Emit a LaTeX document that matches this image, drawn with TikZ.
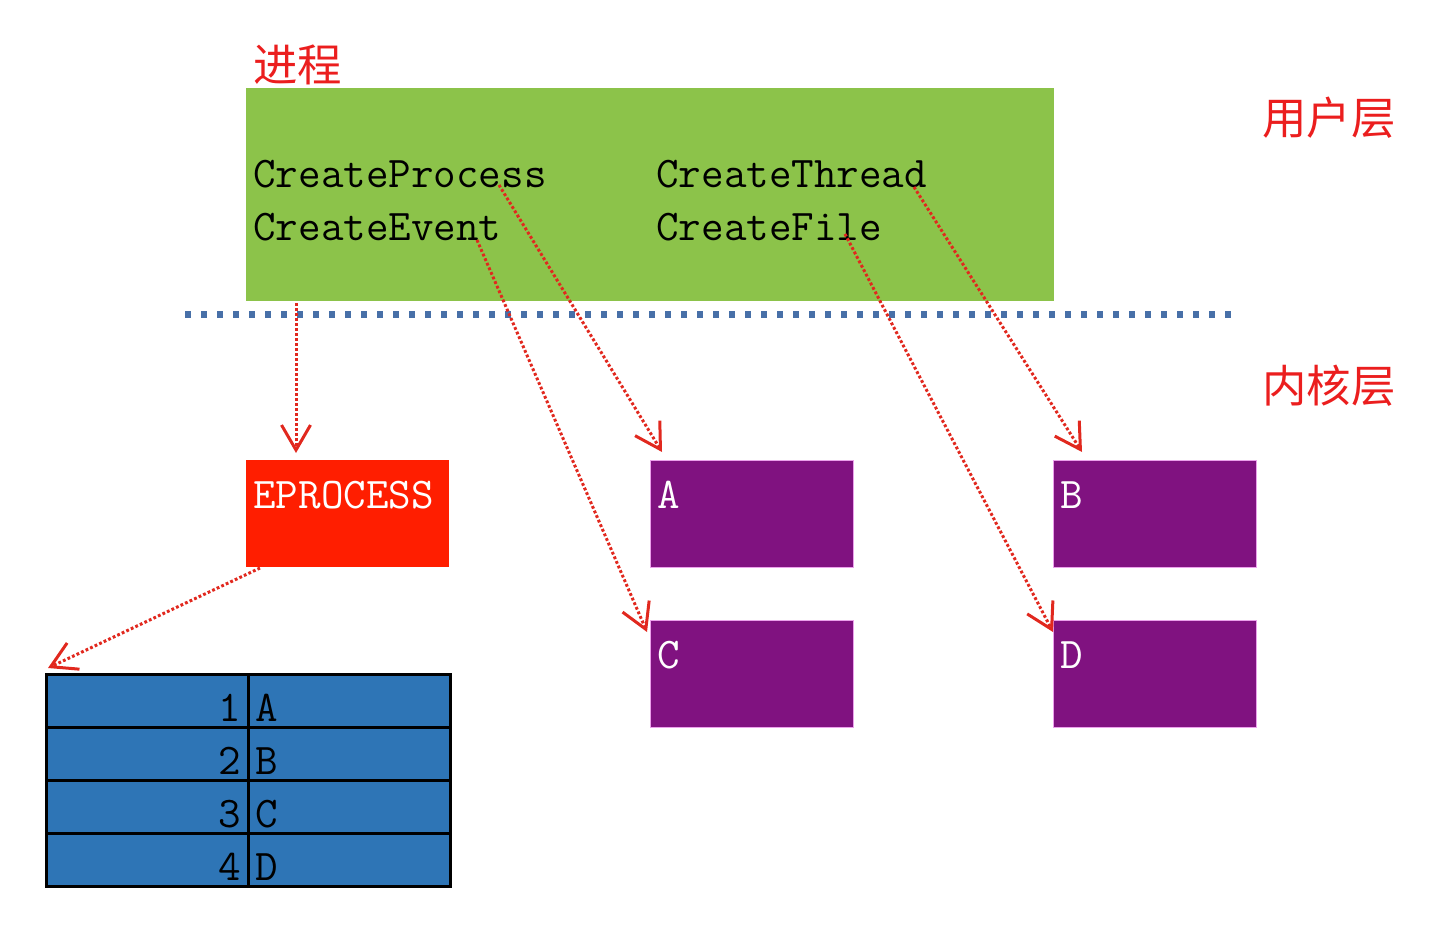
\documentclass[tikz,border=0pt]{standalone}
\usepackage{fontspec}
\newfontfamily\cjk{Noto Sans CJK SC}
\usetikzlibrary{arrows.meta}
\definecolor{boxgreen}{RGB}{140,195,74}
\definecolor{boxpurple}{RGB}{128,18,128}
\definecolor{boxpink}{RGB}{235,160,235}
\definecolor{boxred}{RGB}{255,30,0}
\definecolor{tblue}{RGB}{46,117,182}
\definecolor{sepblue}{RGB}{72,112,168}
\definecolor{arrowred}{RGB}{225,40,30}
\definecolor{labred}{RGB}{235,30,30}
\newcommand\codefont{\ttfamily\fontsize{21.9pt}{24pt}\selectfont}
\tikzset{
  code/.style={font=\codefont, inner sep=0pt, anchor=base west},
  layerlab/.style={font=\cjk\fontsize{22.2pt}{25pt}\selectfont, text=labred, inner sep=0pt, anchor=west},
  kbox/.style={anchor=north west, minimum width=101.5pt, inner xsep=3.5pt, inner ysep=0pt,
    text width=94.5pt, align=left, text height=24pt, text depth=29.5pt,
    font=\codefont, text=white},
  purplebox/.style={kbox, fill=boxpurple, draw=boxpink, line width=0.5pt},
  cell/.style={draw=black, line width=1.4pt, fill=tblue, anchor=north west, inner ysep=0pt,
    text height=23.5pt, text depth=3pt, font=\codefont},
  numcell/.style={cell, inner xsep=3.5pt, text width=94pt, align=right},
  letcell/.style={cell, inner xsep=3.5pt, text width=94pt, align=left},
  link/.style={draw=arrowred, line width=1.5pt, dash pattern=on 1.4pt off 1.1pt,
    -{Straight Barb[length=12.5pt,width=14.5pt,line width=1.5pt]}},
  sepline/.style={draw=sepblue, line width=3.5pt, dash pattern=on 3pt off 5pt},
}
\begin{document}
\begin{tikzpicture}[x=0.5pt,y=-0.5pt]
\useasboundingbox (0,0) rectangle (1436,936);
% user-layer box
\node[fill=boxgreen, anchor=north west, minimum width=404pt, minimum height=106.5pt, inner sep=0pt] (user) at (246,88) {};
\node[layerlab] (proc) at (253,65) {进程};
\node[layerlab] (ulayer) at (1262,118) {用户层};
\node[layerlab] (klayer) at (1262,386) {内核层};
\node[code] (cp) at (253,188) {CreateProcess};
\node[code] (ce) at (253,241) {CreateEvent};
\node[code] (ct) at (656,188) {CreateThread};
\node[code] (cf) at (656,241) {CreateFile};
% separator
\coordinate (sepL) at (185,315);
\coordinate (sepR) at (1236,315);
\draw[sepline] (sepL) -- (sepR);
% kernel objects
\node[kbox, fill=boxred] (ep) at (246,460) {EPROCESS};
\node[purplebox] (A) at (650,460) {A};
\node[purplebox] (B) at (1053,460) {B};
\node[purplebox] (C) at (650,620) {C};
\node[purplebox] (D) at (1053,620) {D};
% handle table
\node[numcell] (n1) at (45,673) {1};
\node[letcell] (l1) at (247,673) {A};
\node[numcell] (n2) at (45,726) {2};
\node[letcell] (l2) at (247,726) {B};
\node[numcell] (n3) at (45,779) {3};
\node[letcell] (l3) at (247,779) {C};
\node[numcell] (n4) at (45,832) {4};
\node[letcell] (l4) at (247,832) {D};
% arrow end points
\coordinate (s1) at (296,303);
\coordinate (s2) at (499,185);
\coordinate (s3) at (477,240);
\coordinate (s4) at (914,187);
\coordinate (s5) at (845,234);
\coordinate (s6) at (260,568);
\coordinate (tEP) at ([shift={(50,-7)}]ep.north west);
\coordinate (tA) at ([shift={(12,-8)}]A.north west);
\coordinate (tB) at ([shift={(29,-8)}]B.north west);
\coordinate (tC) at ([shift={(-3,12)}]C.north west);
\coordinate (tD) at ([shift={(0,12)}]D.north west);
\coordinate (tT) at ([shift={(3,-5)}]n1.north west);
\draw[link] (s1) -- (tEP);
\draw[link] (s2) -- (tA);
\draw[link] (s3) -- (tC);
\draw[link] (s4) -- (tB);
\draw[link] (s5) -- (tD);
\draw[link] (s6) -- (tT);
\end{tikzpicture}
\end{document}
